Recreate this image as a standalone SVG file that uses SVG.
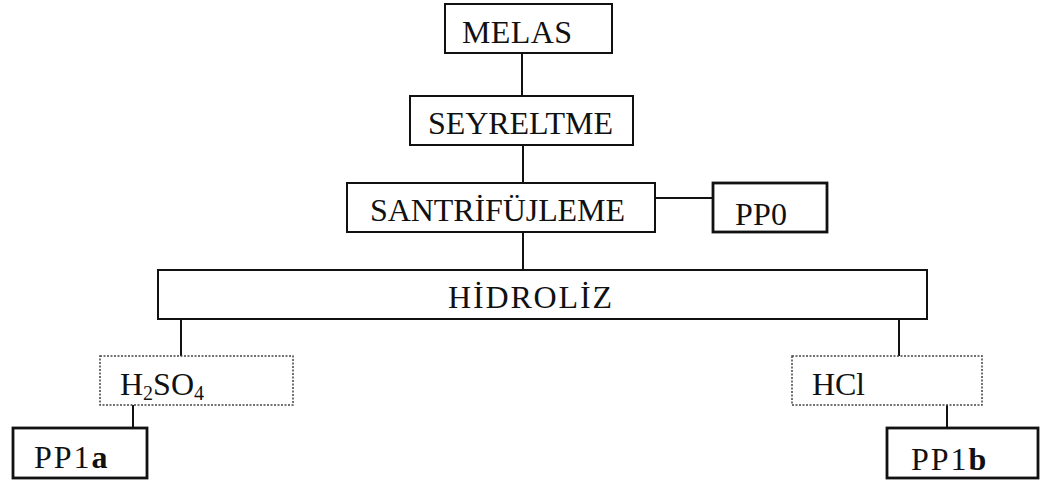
<svg xmlns="http://www.w3.org/2000/svg" width="1042" height="481" viewBox="0 0 1042 481">
<style>
.box{fill:#fff;stroke:#111;stroke-width:2}
.thick{fill:#fff;stroke:#111;stroke-width:2.8}
.dot{fill:#fff;stroke:#444;stroke-width:1.5;stroke-dasharray:2 1.5}
.lbl{font-family:"Liberation Serif","Times New Roman",serif;font-size:32px;fill:#111}
.pp{letter-spacing:2px}
.sub{font-size:20px}
.conn line{stroke:#111;stroke-width:2}
</style>
<rect width="1042" height="481" fill="#fff"/>
<g id="connectors" class="conn">
<line x1="522" y1="53" x2="522" y2="96"/>
<line x1="523" y1="145" x2="523" y2="183"/>
<line x1="655" y1="198" x2="713" y2="198"/>
<line x1="523" y1="232" x2="523" y2="270"/>
<line x1="181" y1="319" x2="181" y2="356"/>
<line x1="899" y1="319" x2="899" y2="356"/>
<line x1="133" y1="405" x2="133" y2="428"/>
<line x1="947" y1="405" x2="947" y2="428"/>
</g>
<g id="melas"><rect class="box" x="445" y="4" width="167" height="49"/><text class="lbl" x="462" y="43" textLength="110" lengthAdjust="spacing">MELAS</text></g>
<g id="seyreltme"><rect class="box" x="410" y="96" width="223" height="49"/><text class="lbl" x="428" y="134" textLength="185" lengthAdjust="spacing">SEYRELTME</text></g>
<g id="santrifujleme"><rect class="box" x="347" y="183" width="308" height="49"/><text class="lbl" x="370" y="221" textLength="255" lengthAdjust="spacing">SANTRİFÜJLEME</text></g>
<g id="pp0"><rect class="thick" x="713" y="183" width="114" height="49"/><text class="lbl" x="735" y="225" textLength="52" lengthAdjust="spacing">PP0</text></g>
<g id="hidroliz"><rect class="box" x="158" y="270" width="769" height="49"/><text class="lbl" x="448" y="308" textLength="164" lengthAdjust="spacing">HİDROLİZ</text></g>
<g id="h2so4"><rect class="dot" x="100" y="356" width="193" height="49"/><text class="lbl" x="120" y="395">H<tspan class="sub" dy="5">2</tspan><tspan dy="-5">SO</tspan><tspan class="sub" dy="5">4</tspan></text></g>
<g id="hcl"><rect class="dot" x="792" y="356" width="190" height="49"/><text class="lbl" x="812" y="395" textLength="53" lengthAdjust="spacing">HCl</text></g>
<g id="pp1a"><rect class="thick" x="13" y="428" width="134" height="50"/><text class="lbl pp" x="34" y="468">PP1<tspan font-weight="bold">a</tspan></text></g>
<g id="pp1b"><rect class="thick" x="887" y="428" width="151" height="50"/><text class="lbl pp" x="911" y="470">PP1<tspan font-weight="bold">b</tspan></text></g>
</svg>
